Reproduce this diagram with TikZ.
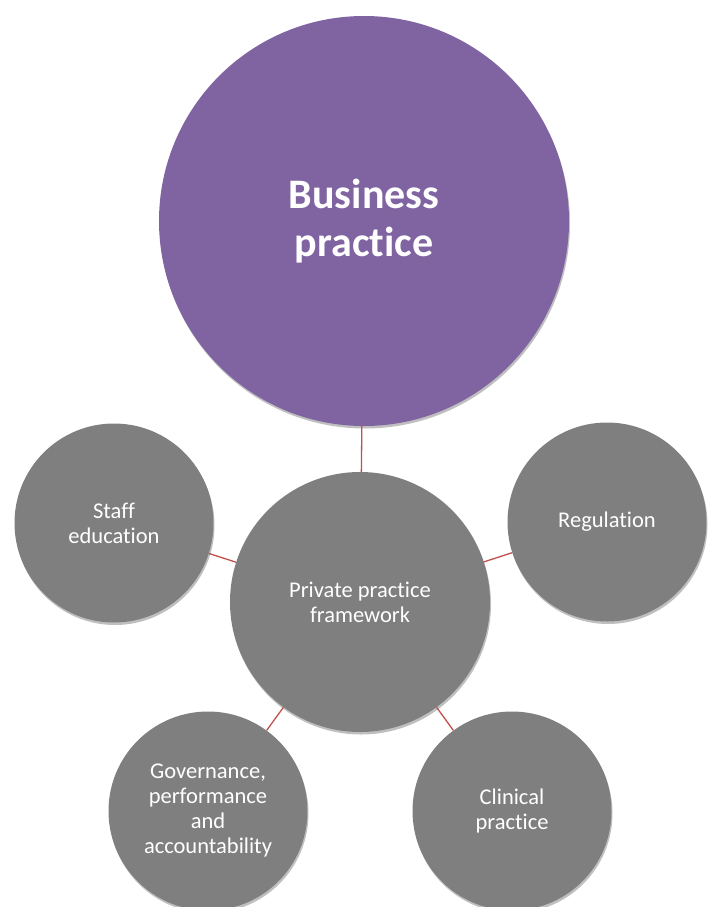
\documentclass[tikz,border=0pt]{standalone}
\usepackage{fontspec}
\setmainfont{Carlito}[Ligatures=NoCommon]
\usetikzlibrary{shadows}
\definecolor{bpurple}{HTML}{8064A2}
\definecolor{bgray}{HTML}{7F7F7F}
\definecolor{bred}{HTML}{C0504D}
\begin{document}
\begin{tikzpicture}[x=1pt,y=1pt,
  bubble/.style={circle, fill=bgray, inner sep=0pt, text=white, align=center,
    font=\fontsize{22.5}{25}\selectfont,
    drop shadow={shadow xshift=1pt, shadow yshift=-2.5pt, opacity=0.25, fill=black}},
  bigbubble/.style={bubble, fill=bpurple, font=\fontsize{42}{48}\selectfont\bfseries},
  link/.style={draw=bred, line width=1.3pt}]
\useasboundingbox (0,0) rectangle (707,-907);
\node[bigbubble, minimum size=410pt] (bp) at (364,-221) {Business\\practice};
\node[bubble, minimum size=260pt] (pp) at (360,-602) {Private practice\\framework};
\node[bubble, minimum size=199pt] (se) at (114,-523) {Staff\\education};
\node[bubble, minimum size=199pt] (rg) at (607,-522) {Regulation};
\node[bubble, minimum size=199pt] (gv) at (208,-811) {Governance,\\performance\\and\\accountability};
\node[bubble, minimum size=199pt] (cp) at (512,-811) {Clinical\\practice};
\draw[link] (bp) -- (pp);
\draw[link] (pp) -- (se);
\draw[link] (pp) -- (rg);
\draw[link] (pp) -- (gv);
\draw[link] (pp) -- (cp);
\end{tikzpicture}
\end{document}
